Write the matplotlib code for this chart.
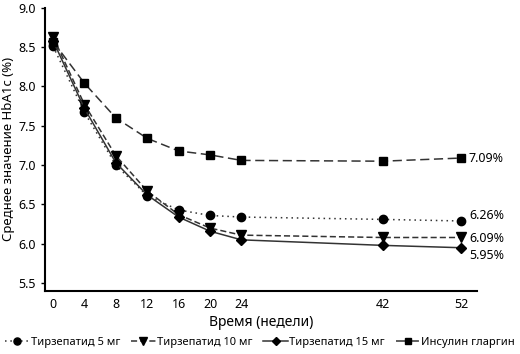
import matplotlib
matplotlib.use("Agg")
import matplotlib.pyplot as plt

# данные HbA1c по неделям
weeks = [0, 4, 8, 12, 16, 20, 24, 42, 52]
tirz_5 = [8.51, 7.67, 7.00, 6.61, 6.43, 6.36, 6.34, 6.31, 6.29]
tirz_10 = [8.63, 7.77, 7.12, 6.67, 6.37, 6.20, 6.11, 6.08, 6.08]
tirz_15 = [8.58, 7.72, 7.03, 6.62, 6.34, 6.16, 6.05, 5.98, 5.95]
glargine = [8.57, 8.04, 7.60, 7.34, 7.18, 7.13, 7.06, 7.05, 7.09]
end_labels = ["6.26%", "6.09%", "5.95%", "7.09%"]
names = ["Тирзепатид 5 мг", "Тирзепатид 10 мг", "Тирзепатид 15 мг", "Инсулин гларгин"]

plt.rcParams['font.family'] = ['Noto Sans', 'DejaVu Sans']

fig = plt.figure(figsize=(5.2, 3.54), dpi=100)
ax = fig.add_axes([0.087, 0.178, 0.83, 0.80])

col = "#333333"
series = [tirz_5, tirz_10, tirz_15, glargine]
styles = [(0, (1, 2.5)), (0, (4, 2)), "-", (0, (6, 3))]
markers = ["o", "v", "D", "s"]
msizes = [6, 7, 5, 5.5]
for vals, ls, mk, ms, nm in zip(series, styles, markers, msizes, names):
    ax.plot(weeks, vals, linestyle=ls, marker=mk, color=col, markerfacecolor="black",
            markeredgecolor="black", markersize=ms, linewidth=1.1, label=nm)

# подписи у последней точки
label_y = [6.36, 6.07, 5.85, 7.09]
for txt, yy in zip(end_labels, label_y):
    ax.text(53.0, yy, txt, fontsize=9, va="center", ha="left")

ax.set_xlim(-1.0, 54)
ax.set_ylim(5.4, 9.0)
ax.set_xticks(weeks)
ax.set_yticks([5.5, 6.0, 6.5, 7.0, 7.5, 8.0, 8.5, 9.0])
ax.set_yticklabels(["5.5", "6.0", "6.5", "7.0", "7.5", "8.0", "8.5", "9.0"])
ax.tick_params(axis="both", labelsize=9, length=3, width=1)
ax.tick_params(axis="x", length=0, pad=5)
ax.spines["top"].set_visible(False)
ax.spines["right"].set_visible(False)
ax.spines["left"].set_linewidth(1.5)
ax.spines["bottom"].set_linewidth(1.5)
ax.set_ylabel("Среднее значение HbA1c (%)", fontsize=9.5, labelpad=3)
ax.set_xlabel("Время (недели)", fontsize=10, labelpad=3)

fig.legend(loc="lower center", bbox_to_anchor=(0.5, -0.01), ncol=4, frameon=False,
           fontsize=8, handlelength=2.2, handletextpad=0.1, columnspacing=1.0,
           markerscale=0.85)

fig.savefig("out.png", dpi=100)
